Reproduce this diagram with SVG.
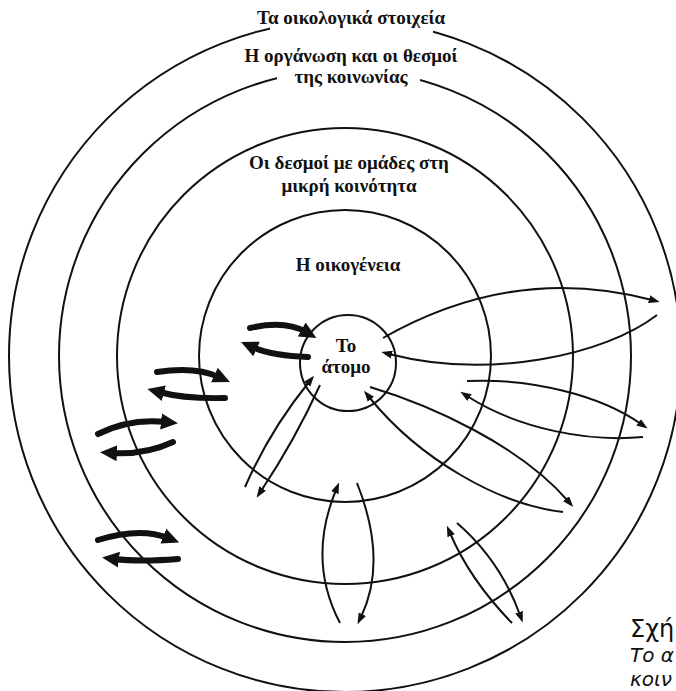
<svg xmlns="http://www.w3.org/2000/svg" width="676" height="691" viewBox="0 0 676 691">
<style>
.ring{fill:none;stroke:#111;stroke-width:2}
.lbl{font-family:"Liberation Serif","DejaVu Serif",serif;font-size:19px;font-weight:bold;fill:#111;text-anchor:middle}
.thin{fill:none;stroke:#111;stroke-width:2;marker-end:url(#ah)}
.thick{fill:none;stroke:#111;stroke-width:6;stroke-linecap:round;marker-end:url(#ahb)}
.cap{font-family:"DejaVu Sans","Noto Sans",sans-serif;fill:#111}
</style>
<defs>
<marker id="ah" markerUnits="userSpaceOnUse" markerWidth="12" markerHeight="8" refX="3" refY="4" orient="auto">
<path d="M0,0 L11,4 L0,8 z" fill="#111"/>
</marker>
<marker id="ahb" markerUnits="userSpaceOnUse" markerWidth="18" markerHeight="18" refX="5" refY="9" orient="auto">
<path d="M0,1 L17,9 L0,17 z" fill="#111"/>
</marker>
</defs>
<rect width="676" height="691" fill="#fff"/>

<g id="ring-ecology">
<circle class="ring" cx="345" cy="356" r="336"/>
<rect x="270" y="0" width="163" height="36" fill="#fff"/>
<text class="lbl" x="351" y="24">Τα οικολογικά στοιχεία</text>
</g>

<g id="ring-society">
<circle class="ring" cx="345" cy="356" r="286"/>
<rect x="277" y="60" width="143" height="30" fill="#fff"/>
<text class="lbl" x="351" y="62">Η οργάνωση και οι θεσμοί</text>
<text class="lbl" x="351" y="83">της κοινωνίας</text>
</g>

<g id="ring-community">
<circle class="ring" cx="345" cy="356" r="228"/>
<text class="lbl" x="349" y="169">Οι δεσμοί με ομάδες στη</text>
<text class="lbl" x="349" y="192">μικρή κοινότητα</text>
</g>

<g id="ring-family">
<circle class="ring" cx="345" cy="356" r="146"/>
<text class="lbl" x="348" y="271">Η οικογένεια</text>
</g>

<g id="individual">
<circle class="ring" cx="348" cy="363" r="48"/>
<text class="lbl" x="346" y="352">Το</text>
<text class="lbl" x="346" y="373">άτομο</text>
</g>

<g id="connectors">
<path class="thin" d="M383,338 C450,300 540,270 652,300"/>
<path class="thin" d="M657,315 C605,355 490,380 389,354"/>
<path class="thin" d="M467,381 C530,378 600,395 641,424"/>
<path class="thin" d="M643,437 C590,442 520,430 467,396"/>
<path class="thin" d="M370,387 C430,405 520,445 568,501"/>
<path class="thin" d="M563,512 C500,505 420,460 369,397"/>
<path class="thin" d="M245,487 Q270,430 309,382"/>
<path class="thin" d="M320,385 Q295,440 261,491"/>
<path class="thin" d="M340,623 Q307,560 336,490"/>
<path class="thin" d="M357,483 Q388,561 361,617"/>
<path class="thin" d="M512,623 Q470,580 450,533"/>
<path class="thin" d="M457,523 Q500,560 520,615"/>

<path class="thick" d="M250,328 Q285,320 306,332"/>
<path class="thick" d="M308,357 Q272,356 252,347"/>
<path class="thick" d="M157,372 Q195,366 219,377"/>
<path class="thick" d="M225,398 Q185,399 159,392"/>
<path class="thick" d="M98,434 Q130,418 166,422"/>
<path class="thick" d="M173,442 Q145,455 112,453"/>
<path class="thick" d="M98,540 Q140,527 168,538"/>
<path class="thick" d="M178,559 Q140,562 114,559"/>
</g>

<g id="caption">
<text class="cap" x="630" y="637" font-size="24">Σχή</text>
<text class="cap" x="630" y="662" font-size="20" font-style="italic">Το α</text>
<text class="cap" x="630" y="686" font-size="20" font-style="italic">κοιν</text>
</g>
</svg>
